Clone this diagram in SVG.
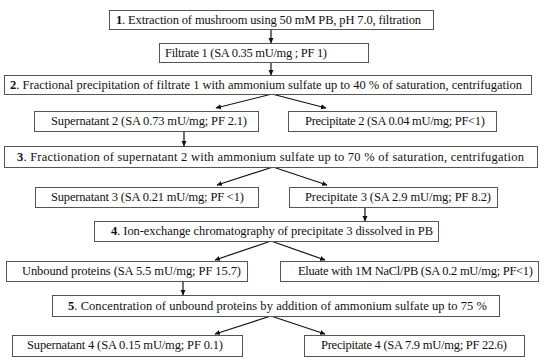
<svg xmlns="http://www.w3.org/2000/svg" width="550" height="363" viewBox="0 0 550 363">
<defs>
<marker id="ah" markerWidth="6" markerHeight="6" refX="5" refY="3" orient="auto" markerUnits="userSpaceOnUse">
<path d="M0,0.5 L5.5,3 L0,5.5 Z" fill="#111"/>
</marker>
<style>
rect{fill:#fff;stroke:#555;stroke-width:1}
text{font-family:"Liberation Serif","Times New Roman",serif;font-size:12.5px;fill:#111}
.n{font-weight:bold}
#connectors line{stroke:#111;stroke-width:1.2;marker-end:url(#ah)}
</style>
</defs>
<rect x="0" y="0" width="550" height="363" style="fill:#fff;stroke:none"/>
<g id="connectors">
<line x1="271" y1="29" x2="271" y2="43"/>
<line x1="271" y1="62" x2="271" y2="75"/>
<line x1="272" y1="94" x2="216" y2="108"/>
<line x1="272" y1="94" x2="326" y2="108"/>
<line x1="184" y1="131" x2="184" y2="146"/>
<line x1="273" y1="167" x2="217" y2="185"/>
<line x1="273" y1="167" x2="327" y2="185"/>
<line x1="365" y1="207" x2="365" y2="221"/>
<line x1="271" y1="241" x2="215" y2="260"/>
<line x1="271" y1="241" x2="325" y2="260"/>
<line x1="183" y1="281" x2="183" y2="295"/>
<line x1="271" y1="316" x2="215" y2="334"/>
<line x1="271" y1="316" x2="325" y2="334"/>
</g>
<g id="step1"><rect x="109.5" y="10.5" width="324" height="19"/><text x="116" y="24" textLength="305"><tspan class="n">1</tspan>. Extraction of mushroom using 50 mM PB, pH 7.0, filtration</text></g>
<g id="filtrate1"><rect x="159.5" y="43.5" width="209" height="19"/><text x="165" y="57" textLength="162">Filtrate 1 (SA 0.35 mU/mg ; PF 1)</text></g>
<g id="step2"><rect x="4.5" y="75.5" width="527" height="19"/><text x="10" y="89" textLength="512"><tspan class="n">2</tspan>. Fractional  precipitation of filtrate 1 with ammonium sulfate up to 40 % of saturation, centrifugation</text></g>
<g id="supernatant2"><rect x="34.5" y="111.5" width="224" height="20"/><text x="51" y="125" textLength="196">Supernatant 2 (SA 0.73 mU/mg;  PF 2.1)</text></g>
<g id="precipitate2"><rect x="288.5" y="111.5" width="208" height="20"/><text x="305" y="125" textLength="180">Precipitate 2 (SA 0.04 mU/mg; PF&lt;1)</text></g>
<g id="step3"><rect x="4.5" y="146.5" width="533" height="21"/><text x="17" y="161" textLength="507"><tspan class="n">3</tspan>. Fractionation of supernatant 2 with ammonium sulfate up to 70 % of saturation, centrifugation</text></g>
<g id="supernatant3"><rect x="35.5" y="187.5" width="223" height="20"/><text x="51" y="201" textLength="193">Supernatant 3 (SA 0.21 mU/mg; PF &lt;1)</text></g>
<g id="precipitate3"><rect x="289.5" y="187.5" width="208" height="20"/><text x="305" y="201" textLength="186">Precipitate 3 (SA 2.9 mU/mg; PF 8.2)</text></g>
<g id="step4"><rect x="94.5" y="221.5" width="344" height="20"/><text x="111" y="235" textLength="322"><tspan class="n">4</tspan>. Ion-exchange chromatography of precipitate 3 dissolved in PB</text></g>
<g id="unbound"><rect x="6.5" y="261.5" width="241" height="20"/><text x="22" y="275" textLength="219">Unbound proteins (SA 5.5 mU/mg; PF 15.7)</text></g>
<g id="eluate"><rect x="280.5" y="261.5" width="258" height="20"/><text x="298" y="275" textLength="235">Eluate with 1M NaCl/PB (SA 0.2 mU/mg; PF&lt;1)</text></g>
<g id="step5"><rect x="52.5" y="295.5" width="447" height="21"/><text x="68" y="310" textLength="419"><tspan class="n">5</tspan>. Concentration of unbound proteins by addition of ammonium sulfate up to 75 %</text></g>
<g id="supernatant4"><rect x="12.5" y="335.5" width="230" height="21"/><text x="27" y="349" textLength="196">Supernatant 4 (SA 0.15 mU/mg; PF 0.1)</text></g>
<g id="precipitate4"><rect x="304.5" y="335.5" width="220" height="21"/><text x="321" y="349" textLength="186">Precipitate 4 (SA 7.9 mU/mg; PF 22.6)</text></g>
</svg>
